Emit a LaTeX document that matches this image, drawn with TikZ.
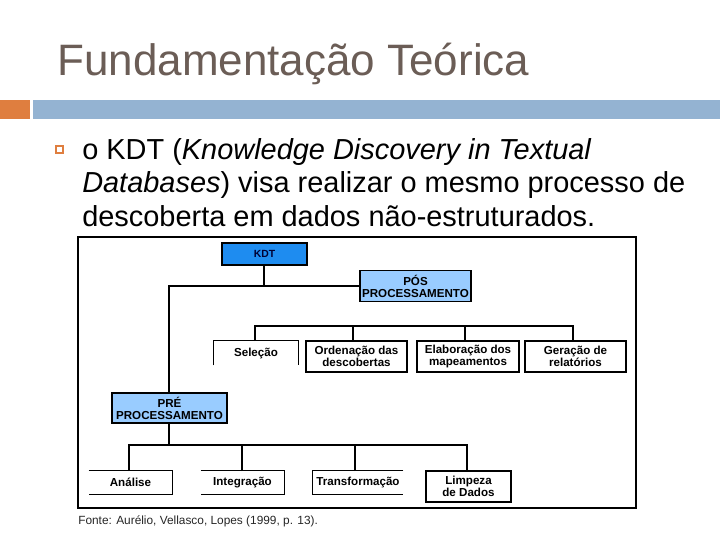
\documentclass[tikz,border=0pt]{standalone}
\usepackage{fontspec}
\setmainfont{Liberation Sans}
\definecolor{titlecol}{RGB}{107,93,86}
\definecolor{orangebar}{RGB}{223,126,63}
\definecolor{bluebar}{RGB}{148,179,210}
\definecolor{kdtblue}{RGB}{30,140,240}
\definecolor{lightblue}{RGB}{153,204,255}
\tikzset{
  px/.style={x=0.75pt,y=-0.75pt},
  boxtext/.style={font=\fontsize{8.7pt}{9pt}\selectfont\bfseries, align=center, inner sep=0pt},
  openbox/.style={boxtext, draw=none},
  fullbox/.style={boxtext, draw=black, line width=0.8pt},
  conn/.style={draw=black, line width=0.8pt},
  bodytext/.style={font=\fontsize{21.7pt}{25pt}\selectfont, anchor=base west, inner sep=0pt}
}
\begin{document}
\begin{tikzpicture}[px]
\useasboundingbox (0,0) rectangle (720,540);
% title
\node[anchor=base west, inner sep=0pt, text=titlecol, font=\fontsize{33pt}{36pt}\selectfont] (title) at (57,75) {Fundamentação Teórica};
% bars
\fill[orangebar] (0,100) rectangle (30,119);
\fill[bluebar] (33,100) rectangle (720,119);
% bullet
\draw[orangebar, line width=0.8pt] (56,146) rectangle (63,153);
% body text
\node[bodytext] (l1) at (82,159) {o KDT (\textit{Knowledge Discovery in Textual}};
\node[bodytext] (l2) at (82,192) {\textit{Databases}) visa realizar o mesmo processo de};
\node[bodytext] (l3) at (82,226) {descoberta em dados não-estruturados.};
% frame
\draw[line width=0.8pt] (78,237) rectangle (636,508);
% top nodes
\node[fullbox, fill=kdtblue, minimum width=85*0.75pt, minimum height=22*0.75pt, font=\fontsize{7.8pt}{9pt}\selectfont\bfseries, text=black!80!blue] (kdt) at (264.5,254) {KDT};
\node[fullbox, fill=lightblue, minimum width=111*0.75pt, minimum height=31*0.75pt] (pos) at (415.5,286) {PÓS\\PROCESSAMENTO};
% pos children
\node[openbox, minimum width=84*0.75pt, minimum height=24*0.75pt] (sel) at (256,353) {Seleção};
\node[fullbox, minimum width=101*0.75pt, minimum height=31*0.75pt] (ord) at (356.5,356.5) {Ordenação das\\descobertas};
\node[fullbox, minimum width=102*0.75pt, minimum height=31*0.75pt] (ela) at (468,356.5) {Elaboração dos\\mapeamentos};
\node[fullbox, minimum width=101*0.75pt, minimum height=31*0.75pt] (ger) at (575.5,356.5) {Geração de\\relatórios};
\draw[conn] (sel.south west) |- (sel.north east) -- (sel.south east);
% pre
\node[fullbox, fill=lightblue, minimum width=115*0.75pt, minimum height=30*0.75pt] (pre) at (169.5,408) {PRÉ\\PROCESSAMENTO};
% pre children
\node[openbox, minimum width=83*0.75pt, minimum height=23*0.75pt] (ana) at (130.5,482.5) {Análise};
\node[openbox, minimum width=83*0.75pt, minimum height=23*0.75pt] (int) at (242.5,482.5) {Integração};
\node[openbox, minimum width=90*0.75pt, minimum height=23*0.75pt] (tra) at (358,482.5) {Transformação};
\node[fullbox, minimum width=85*0.75pt, minimum height=31*0.75pt] (lim) at (468.5,486.5) {Limpeza\\de Dados};
\draw[conn] (ana.north west) -- (ana.north east) -- (ana.south east) -- (ana.south west);
\draw[conn] (int.north west) -- (int.north east) -- (int.south east) -- (int.south west);
\draw[conn] (tra.north east) -- (tra.north west) -- (tra.south west) -- (tra.south east);
% connectors
\coordinate (kb) at (264,286);
\draw[conn] (kdt.south -| kb) -- (kb);
\coordinate (lc) at (169,286);
\draw[conn] (pos.west) -- (lc) -- (lc |- pre.north);
\coordinate (bp) at (0,326);
\coordinate (s1) at (255,341);
\coordinate (s2) at (353,341);
\coordinate (s3) at (465,341);
\coordinate (s4) at (573,341);
\draw[conn] (s1) -- (s1 |- bp) -- (s4 |- bp) -- (s4);
\draw[conn] (s2) -- (s2 |- bp);
\draw[conn] (s3) -- (s3 |- bp);
\coordinate (bq) at (0,445);
\draw[conn] (pre.south -| lc) -- (lc |- bq);
\coordinate (t1) at (129,471);
\coordinate (t2) at (242,471);
\coordinate (t3) at (355,471);
\coordinate (t4) at (467,471);
\draw[conn] (t1) -- (t1 |- bq) -- (t4 |- bq) -- (t4);
\draw[conn] (t2) -- (t2 |- bq);
\draw[conn] (t3) -- (t3 |- bq);
% source
\node[anchor=base west, inner sep=0pt, font=\fontsize{8.9pt}{10pt}\selectfont, text=black!85] (fonte) at (78,524) {Fonte: Aurélio, Vellasco, Lopes (1999, p. 13).};
\end{tikzpicture}
\end{document}
